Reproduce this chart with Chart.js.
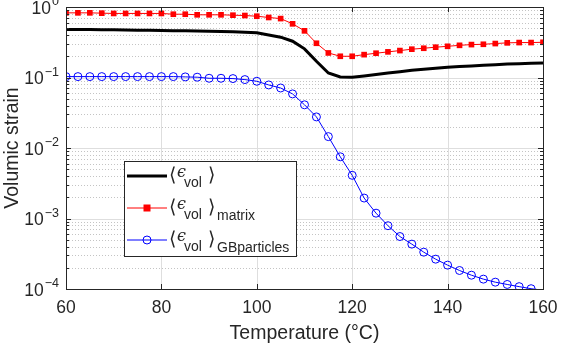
<!DOCTYPE html>
<html>
<head>
<meta charset="utf-8">
<script src="https://cdn.jsdelivr.net/npm/chart.js@4.4.1/dist/chart.umd.min.js"></script>
<style>
  html, body { margin: 0; padding: 0; background: #fff; }
  #wrap { width: 561px; height: 349px; position: relative; }
</style>
</head>
<body>
<div id="wrap"><canvas id="chart" width="561" height="349"></canvas></div>
<script>
// Temperaturas (°C), passo de 2.5
const temps = [60, 62.5, 65, 67.5, 70, 72.5, 75, 77.5, 80, 82.5, 85, 87.5, 90, 92.5, 95, 97.5,
  100, 102.5, 105, 107.5, 110, 112.5, 115, 117.5, 120, 122.5, 125, 127.5, 130, 132.5, 135, 137.5,
  140, 142.5, 145, 147.5, 150, 152.5, 155, 157.5, 160];

// <eps_vol>
const volTotal = [0.479, 0.478, 0.478, 0.477, 0.474, 0.472, 0.469, 0.467, 0.464, 0.462, 0.459, 0.457, 0.454, 0.449, 0.444, 0.439,
  0.430, 0.402, 0.373, 0.327, 0.255, 0.170, 0.116, 0.102, 0.1007, 0.105, 0.110, 0.116, 0.121, 0.127, 0.131, 0.135,
  0.140, 0.143, 0.146, 0.149, 0.152, 0.156, 0.157, 0.159, 0.161];

// <eps_vol>_matrix
const volMatrix = [0.826, 0.826, 0.826, 0.818, 0.81, 0.81, 0.81, 0.81, 0.81, 0.79, 0.79, 0.775, 0.775, 0.775, 0.765, 0.757,
  0.74, 0.71, 0.685, 0.577, 0.459, 0.306, 0.223, 0.2, 0.2, 0.211, 0.221, 0.231, 0.241, 0.252, 0.26, 0.269,
  0.277, 0.286, 0.293, 0.296, 0.303, 0.31, 0.313, 0.313, 0.316];

// <eps_vol>_GBparticles
const volGB = [0.103, 0.103, 0.103, 0.103, 0.103, 0.103, 0.103, 0.103, 0.103, 0.103, 0.102, 0.101, 0.0975, 0.0975, 0.0965, 0.0934,
  0.0884, 0.0784, 0.071, 0.0585, 0.041, 0.0276, 0.0145, 0.0075, 0.0041, 0.00195, 0.00119, 0.00079, 0.000555, 0.000433, 0.000333, 0.000265,
  0.000218, 0.000183, 0.000157, 0.000138, 0.000125, 0.000116, 0.000108, 0.000101, 0.000096];

const xTicks = [60, 80, 100, 120, 140, 160];
const yDecades = [-4, -3, -2, -1, 0];

const TXT = '#262626';
const FONT = '"Liberation Sans", Arial, sans-serif';

const pts = arr => temps.map((t, i) => ({ x: t, y: arr[i] }));

// Grade, eixos, rótulos e legenda desenhados à mão (estilo MATLAB)
const matlabAxes = {
  id: 'matlabAxes',
  beforeDatasetsDraw(chart) {
    const { ctx, chartArea: a, scales: { x, y } } = chart;
    ctx.save();
    ctx.lineWidth = 1;
    // grade menor pontilhada (só horizontal)
    ctx.strokeStyle = '#c4c4c4';
    ctx.setLineDash([1, 2]);
    yDecades.slice(0, -1).forEach(d => {
      for (let m = 2; m <= 9; m++) {
        const py = Math.round(y.getPixelForValue(m * Math.pow(10, d))) + 0.5;
        ctx.beginPath(); ctx.moveTo(a.left, py); ctx.lineTo(a.right, py); ctx.stroke();
      }
    });
    ctx.setLineDash([]);
    ctx.strokeStyle = '#dedede';
    xTicks.slice(1, -1).forEach(t => {
      const px = Math.round(x.getPixelForValue(t)) + 0.5;
      ctx.beginPath(); ctx.moveTo(px, a.top); ctx.lineTo(px, a.bottom); ctx.stroke();
    });
    yDecades.slice(1, -1).forEach(d => {
      const py = Math.round(y.getPixelForValue(Math.pow(10, d))) + 0.5;
      ctx.beginPath(); ctx.moveTo(a.left, py); ctx.lineTo(a.right, py); ctx.stroke();
    });
    ctx.restore();
  },
  afterDraw(chart) {
    const { ctx, chartArea: a, scales: { x, y } } = chart;
    ctx.save();
    ctx.strokeStyle = TXT;
    ctx.lineWidth = 1;
    ctx.strokeRect(Math.round(a.left) + 0.5, Math.round(a.top) + 0.5, Math.round(a.right - a.left), Math.round(a.bottom - a.top));
    // ticks internos
    ctx.beginPath();
    xTicks.forEach(t => {
      const px = Math.round(x.getPixelForValue(t)) + 0.5;
      ctx.moveTo(px, a.bottom); ctx.lineTo(px, a.bottom - 5);
      ctx.moveTo(px, a.top); ctx.lineTo(px, a.top + 5);
    });
    yDecades.forEach(d => {
      for (let m = 1; m <= 9; m++) {
        if (d === 0 && m > 1) break;
        const py = Math.round(y.getPixelForValue(m * Math.pow(10, d))) + 0.5;
        const len = m === 1 ? 5 : 3;
        ctx.moveTo(a.left, py); ctx.lineTo(a.left + len, py);
        ctx.moveTo(a.right, py); ctx.lineTo(a.right - len, py);
      }
    });
    ctx.stroke();

    // rótulos
    ctx.fillStyle = TXT;
    ctx.font = `17.5px ${FONT}`;
    ctx.textAlign = 'center';
    ctx.textBaseline = 'middle';
    xTicks.forEach(t => ctx.fillText(String(t), x.getPixelForValue(t), a.bottom + 19));
    yDecades.forEach(d => {
      const py = y.getPixelForValue(Math.pow(10, d));
      const exp = String(d).replace('-', '\u2212');
      ctx.font = `12.5px ${FONT}`;
      const ew = ctx.measureText(exp).width;
      ctx.textAlign = 'left';
      ctx.fillText(exp, a.left - 7 - ew, py - 5);
      ctx.font = `17.5px ${FONT}`;
      ctx.textAlign = 'right';
      ctx.fillText('10', a.left - 8 - ew, py + 2);
    });
    ctx.textAlign = 'center';
    ctx.font = `19.5px ${FONT}`;
    ctx.fillText('Temperature (°C)', (a.left + a.right) / 2, a.bottom + 45);
    ctx.save();
    ctx.translate(13, (a.top + a.bottom) / 2);
    ctx.rotate(-Math.PI / 2);
    ctx.fillText('Volumic strain', 0, 0);
    ctx.restore();

    // legenda
    const lx = 124, ly = 161, lw = 172, lh = 95;
    ctx.fillStyle = '#fff';
    ctx.fillRect(lx, ly, lw, lh);
    ctx.strokeStyle = TXT;
    ctx.strokeRect(lx + 0.5, ly + 0.5, lw, lh);
    const rows = [
      { sub: '', color: '#000', width: 3, marker: null, y: 176 },
      { sub: 'matrix', color: '#ff0000', width: 1, marker: 'rect', y: 208 },
      { sub: 'GBparticles', color: '#0000ff', width: 1, marker: 'circle', y: 240 }
    ];
    rows.forEach(r => {
      ctx.strokeStyle = r.color;
      ctx.lineWidth = r.width;
      ctx.beginPath(); ctx.moveTo(127, r.y); ctx.lineTo(167, r.y); ctx.stroke();
      if (r.marker === 'rect') { ctx.fillStyle = r.color; ctx.fillRect(143.5, r.y - 3.5, 7, 7); }
      if (r.marker === 'circle') { ctx.lineWidth = 1; ctx.beginPath(); ctx.arc(147, r.y, 4, 0, Math.PI * 2); ctx.stroke(); }
      ctx.fillStyle = TXT;
      ctx.textAlign = 'left';
      ctx.textBaseline = 'alphabetic';
      ctx.font = `19px ${FONT}`;
      ctx.fillText('\u27E8', 169, r.y + 5);
      ctx.font = `italic 16px "DejaVu Serif", serif`;
      ctx.fillText('\u03F5', 177, r.y + 1);
      ctx.font = `14px ${FONT}`;
      ctx.fillText('vol', 184, r.y + 11);
      ctx.font = `19px ${FONT}`;
      ctx.fillText('\u27E9', 208, r.y + 5);
      if (r.sub) { ctx.font = `14px ${FONT}`; ctx.fillText(r.sub, 217, r.y + 12); }
    });
    ctx.restore();
  }
};

new Chart(document.getElementById('chart'), {
  type: 'line',
  data: {
    datasets: [
      { label: '<eps_vol>', data: pts(volTotal), borderColor: '#000', borderWidth: 3, pointRadius: 0, order: 3 },
      { label: '<eps_vol>_matrix', data: pts(volMatrix), borderColor: '#ff0000', backgroundColor: '#ff0000', borderWidth: 1,
        pointStyle: 'rect', pointRadius: 4, pointBorderWidth: 0, order: 2 },
      { label: '<eps_vol>_GBparticles', data: pts(volGB), borderColor: '#0000ff', backgroundColor: 'rgba(0,0,0,0)', borderWidth: 1,
        pointStyle: 'circle', pointRadius: c => (c.raw && c.raw.y < 1e-4 ? 0 : 4), pointBorderWidth: 1, order: 1 }
    ]
  },
  options: {
    responsive: false,
    animation: false,
    layout: { padding: { left: 66, right: 18, top: 7, bottom: 60 } },
    plugins: { legend: { display: false }, tooltip: { enabled: false } },
    scales: {
      x: { type: 'linear', min: 60, max: 160, display: false },
      y: { type: 'logarithmic', min: 1e-4, max: 1, display: false }
    }
  },
  plugins: [matlabAxes]
});
</script>
</body>
</html>
